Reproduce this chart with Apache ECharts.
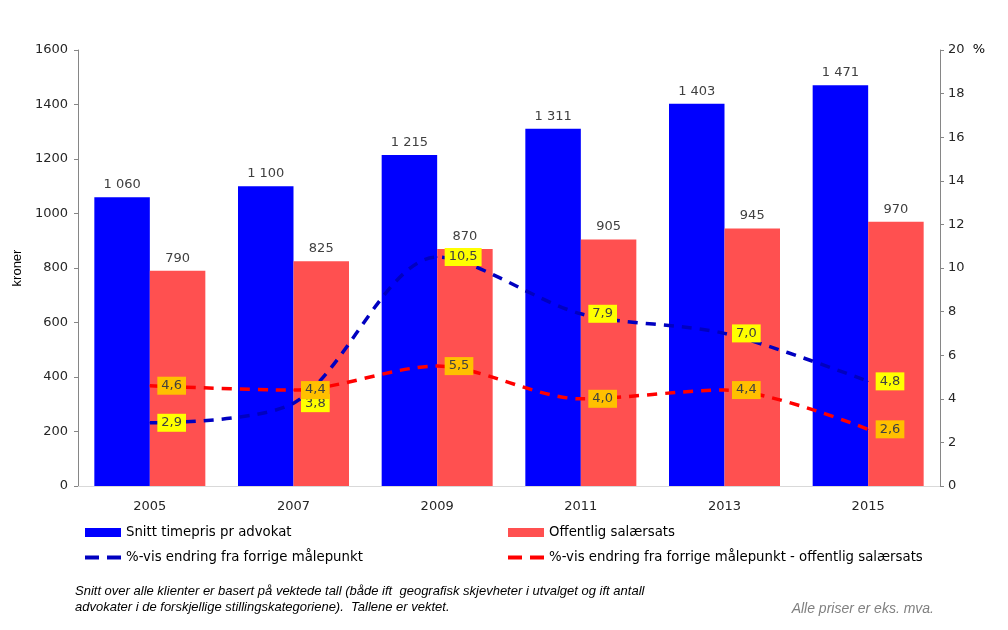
<!DOCTYPE html>
<html><head><meta charset="utf-8">
<script src="https://cdn.jsdelivr.net/npm/echarts@6/dist/echarts.min.js"></script>
<style>html,body{margin:0;padding:0;background:#fff}#c{width:1008px;height:630px}</style>
</head><body><div id="c"></div>
<script>
const years = ['2005','2007','2009','2011','2013','2015'];
const timepris = [1060, 1100, 1215, 1311, 1403, 1471];
const salaersats = [790, 825, 870, 905, 945, 970];
const endringTimepris = [2.9, 3.8, 10.5, 7.9, 7.0, 4.8];
const endringSalaersats = [4.6, 4.4, 5.5, 4.0, 4.4, 2.6];
const leftTicks = {min: 0, max: 1600, interval: 200};
const rightTicks = {min: 0, max: 20, interval: 2};

const chart = echarts.init(document.getElementById('c'), null, {renderer: 'canvas'});
const fmtThousands = v => String(v).replace(/\B(?=(\d{3})+(?!\d))/g, ' ');
const fmtComma = v => v.toFixed(1).replace('.', ',');
const font = 'DejaVu Sans';
const dashIcon = 'path://M0,0h14v4h-14z M22,0h14v4h-14z';

chart.setOption({
  animation: false,
  backgroundColor: '#fff',
  grid: {left: 78, right: 68, top: 50, bottom: 144, containLabel: false},
  legend: [
    {left: 85, top: 526, padding: 0, orient: 'vertical', itemWidth: 36, itemHeight: 9, itemGap: 12,
     textStyle: {fontFamily: font, fontSize: 13.3, color: '#000'},
     data: [{name: 'Snitt timepris pr advokat', icon: 'rect'},
            {name: '%-vis endring fra forrige målepunkt', icon: dashIcon}]},
    {left: 508, top: 526, padding: 0, orient: 'vertical', itemWidth: 36, itemHeight: 9, itemGap: 12,
     textStyle: {fontFamily: font, fontSize: 13.3, color: '#000'},
     data: [{name: 'Offentlig salærsats', icon: 'rect'},
            {name: '%-vis endring fra forrige målepunkt - offentlig salærsats', icon: dashIcon}]}
  ],
  xAxis: {
    type: 'category', data: years,
    axisLine: {lineStyle: {color: '#d9d9d9', width: 1}},
    axisTick: {show: false},
    axisLabel: {fontFamily: font, fontSize: 13, color: '#262626', margin: 14}
  },
  yAxis: [
    {type: 'value', min: leftTicks.min, max: leftTicks.max, interval: leftTicks.interval,
     name: 'kroner', nameLocation: 'middle', nameGap: 52,
     nameTextStyle: {fontFamily: 'Liberation Sans', fontSize: 13, color: '#000'},
     splitLine: {show: false},
     axisLine: {show: true, lineStyle: {color: '#868686'}},
     axisTick: {show: true, length: 4, lineStyle: {color: '#868686'}},
     axisLabel: {fontFamily: font, fontSize: 13, color: '#262626', margin: 10, formatter: v => String(v)}},
    {type: 'value', min: rightTicks.min, max: rightTicks.max, interval: rightTicks.interval,
     splitLine: {show: false},
     axisLine: {show: true, lineStyle: {color: '#868686'}},
     axisTick: {show: true, length: 4, lineStyle: {color: '#868686'}},
     axisLabel: {fontFamily: font, fontSize: 13, color: '#262626', margin: 8,
       formatter: v => v === 20 ? '{v|20}{p|  %}' : String(v),
       rich: {v: {fontFamily: font, fontSize: 13, color: '#262626'},
              p: {fontFamily: font, fontSize: 13, color: '#000'}}}}
  ],
  series: [
    {name: 'Snitt timepris pr advokat', type: 'bar', data: timepris, barWidth: 55.5, barGap: '0%',
     itemStyle: {color: '#0000FF'},
     label: {show: true, position: 'top', distance: 6, fontFamily: font, fontSize: 13, color: '#404040',
             formatter: p => fmtThousands(p.value)}},
    {name: 'Offentlig salærsats', type: 'bar', data: salaersats, barWidth: 55.5, barGap: '0%',
     itemStyle: {color: '#FF5050'},
     label: {show: true, position: 'top', distance: 6, fontFamily: font, fontSize: 13, color: '#404040',
             formatter: p => fmtThousands(p.value)}},
    {name: '%-vis endring fra forrige målepunkt', type: 'line', yAxisIndex: 1, data: endringTimepris,
     smooth: 0.3, symbol: 'circle', symbolSize: 1, showSymbol: true, z: 5,
     itemStyle: {color: '#0000C0'},
     lineStyle: {color: '#0000C0', width: 3.5, type: [10, 8]},
     label: {show: true, position: 'right', distance: 7, fontFamily: font, fontSize: 13, color: '#404040',
             backgroundColor: '#FFFF00', padding: [3, 4, 2, 4], formatter: p => fmtComma(p.value)}},
    {name: '%-vis endring fra forrige målepunkt - offentlig salærsats', type: 'line', yAxisIndex: 1, data: endringSalaersats,
     smooth: 0.3, symbol: 'circle', symbolSize: 1, showSymbol: true, z: 5,
     itemStyle: {color: '#FF0000'},
     lineStyle: {color: '#FF0000', width: 3.5, type: [10, 8]},
     label: {show: true, position: 'right', distance: 7, fontFamily: font, fontSize: 13, color: '#404040',
             backgroundColor: '#FFC000', padding: [3, 4, 2, 4], formatter: p => fmtComma(p.value)}}
  ],
  graphic: [
    {type: 'text', left: 75, top: 583, style: {text: 'Snitt over alle klienter er basert på vektede tall (både ift  geografisk skjevheter i utvalget og ift antall\nadvokater i de forskjellige stillingskategoriene).  Tallene er vektet.', font: 'italic 13px "Liberation Sans"', fill: '#000', lineHeight: 16}},
    {type: 'text', right: 74, top: 602, style: {text: 'Alle priser er eks. mva.', font: 'italic 14px "Liberation Sans"', fill: '#808080'}}
  ]
});
</script></body></html>
